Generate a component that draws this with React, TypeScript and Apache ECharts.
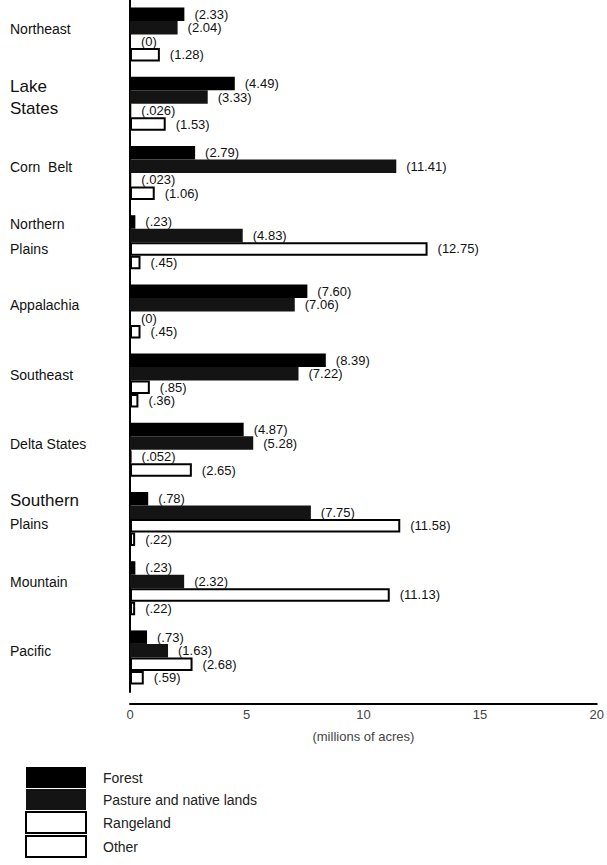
import React, { useEffect, useRef } from "react";
import * as echarts from "echarts";

const categories = [
  "Northeast",
  "Lake States",
  "Corn Belt",
  "Northern Plains",
  "Appalachia",
  "Southeast",
  "Delta States",
  "Southern Plains",
  "Mountain",
  "Pacific",
];
const forest = [2.33, 4.49, 2.79, 0.23, 7.6, 8.39, 4.87, 0.78, 0.23, 0.73];
const pasture = [2.04, 3.33, 11.41, 4.83, 7.06, 7.22, 5.28, 7.75, 2.32, 1.63];
const rangeland = [0, 0.026, 0.023, 12.75, 0, 0.85, 0.052, 11.58, 11.13, 2.68];
const other = [1.28, 1.53, 1.06, 0.45, 0.45, 0.36, 2.65, 0.22, 0.22, 0.59];
const seriesNames = ["Forest", "Pasture and native lands", "Rangeland", "Other"];
const xTicks = [0, 5, 10, 15, 20];

const fmt = (v: number) => {
  if (v === 0) return "(0)";
  if (v < 1) return "(" + String(v).replace(/^0/, "") + ")";
  return "(" + v.toFixed(2) + ")";
};

const FONT = "'Liberation Sans', Arial, Helvetica, sans-serif";

export default function App() {
  const ref = useRef<HTMLDivElement>(null);
  useEffect(() => {
    if (!ref.current) return;
    const chart = echarts.init(ref.current, undefined, { renderer: "svg" });
    const label = {
      show: true,
      position: "right" as const,
      distance: 10,
      fontFamily: FONT,
      fontSize: 13,
      color: "#111",
      formatter: (p: any) => fmt(p.value),
    };
    const mk = (name: string, data: number[], fill: string, border: string, bw: number) => ({
      name,
      type: "bar",
      data,
      barGap: "0%",
      barCategoryGap: "22%",
      itemStyle: { color: fill, borderColor: border, borderWidth: bw },
      label,
    });
    chart.setOption({
      animation: false,
      backgroundColor: "#fff",
      textStyle: { fontFamily: FONT },
      grid: { left: 130, right: 7, top: 0, height: 692 },
      legend: {
        orient: "vertical",
        left: 20,
        top: 762,
        height: 100,
        itemWidth: 60,
        itemHeight: 21,
        itemGap: 1,
        icon: "rect",
        selectedMode: false,
        textStyle: { fontFamily: FONT, fontSize: 14, color: "#222", padding: [0, 0, 0, 12] },
        data: seriesNames,
      },
      xAxis: {
        type: "value",
        min: 0,
        max: 20,
        interval: 5,
        offset: 12,
        axisLine: { show: true, lineStyle: { color: "#000", width: 2 } },
        axisTick: { show: false },
        splitLine: { show: false },
        axisLabel: {
          fontFamily: FONT,
          fontSize: 13,
          color: "#444",
          margin: 4,
          formatter: (v: number) => (xTicks.includes(v) ? String(v) : ""),
        },
        name: "(millions of acres)",
        nameLocation: "middle",
        nameGap: 26,
        nameTextStyle: { fontFamily: FONT, fontSize: 13, color: "#444" },
      },
      yAxis: {
        type: "category",
        data: categories,
        inverse: true,
        axisLine: { show: true, lineStyle: { color: "#000", width: 2 } },
        axisTick: { show: false },
        axisLabel: {
          align: "left",
          margin: 120,
          padding: [0, 0, 12, 0],
          formatter: (v: string) => {
            if (v === "Lake States") return "{big|Lake}\n{big|States}";
            if (v === "Southern Plains") return "{big|Southern}\n{sm|Plains}";
            if (v === "Northern Plains") return "{sm|Northern}\n{sm|Plains}";
            if (v === "Corn Belt") return "{sm|Corn  Belt}";
            return "{sm|" + v + "}";
          },
          rich: {
            big: { fontFamily: FONT, fontSize: 17, color: "#111", lineHeight: 22 },
            sm: { fontFamily: FONT, fontSize: 14, color: "#111", lineHeight: 25 },
          },
        },
      },
      series: [
        mk(seriesNames[0], forest, "#000", "#000", 0),
        mk(seriesNames[1], pasture, "#141414", "#000", 0),
        mk(seriesNames[2], rangeland, "#fff", "#000", 2),
        mk(seriesNames[3], other, "#fff", "#000", 2),
      ],
    });
    return () => chart.dispose();
  }, []);
  return (
    <div
      ref={ref}
      style={{ position: "absolute", left: 0, top: 0, width: 607, height: 865 }}
    />
  );
}
